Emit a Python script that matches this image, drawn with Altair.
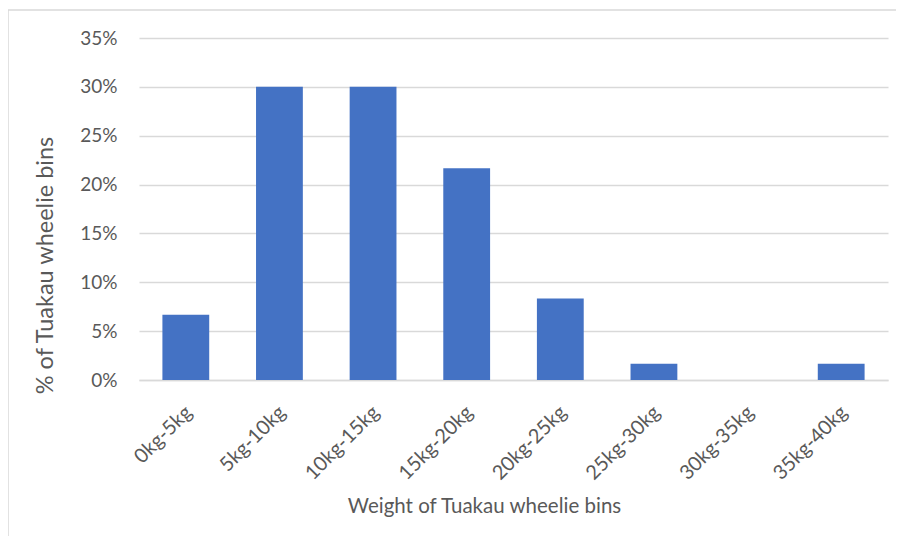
import altair as alt
import pandas as pd

categories = ["0kg-5kg", "5kg-10kg", "10kg-15kg", "15kg-20kg",
              "20kg-25kg", "25kg-30kg", "30kg-35kg", "35kg-40kg"]
shares = [0.0667, 0.30, 0.30, 0.2167, 0.0833, 0.0167, 0.0, 0.0167]
y_ticks = [0, 0.05, 0.10, 0.15, 0.20, 0.25, 0.30, 0.35]

df = pd.DataFrame({"bin": categories, "share": shares})

W, H = 749, 342
FONT = "Lato"
GREY = "#595959"

bars = alt.Chart(df).mark_bar(color="#4472C4").encode(
    x=alt.X(
        "bin:N", sort=categories,
        scale=alt.Scale(paddingInner=0.5, paddingOuter=0.25),
        axis=alt.Axis(
            title="Weight of Tuakau wheelie bins",
            labelAngle=-45, labelAlign="right", labelBaseline="middle",
            labelPadding=29, labelOffset=3,
            labelFont=FONT, labelFontSize=20, labelColor=GREY,
            titleFont=FONT, titleFontSize=20.5, titleColor=GREY, titleFontWeight="normal",
            titleX=345, titleY=126, titleBaseline="middle", titleAlign="center",
            ticks=False, domainColor="#d9d9d9", domainWidth=1.5, grid=False,
        ),
    ),
    y=alt.Y(
        "share:Q",
        scale=alt.Scale(domain=[0, 0.35], nice=False),
        axis=alt.Axis(
            title="% of Tuakau wheelie bins",
            values=y_ticks, format=".0%",
            labelFont=FONT, labelFontSize=19, labelColor=GREY, labelPadding=22,
            titleFont=FONT, titleFontSize=23.5, titleColor=GREY, titleFontWeight="normal",
            titleX=-94, titleY=227, titleBaseline="middle", titleAlign="center",
            ticks=False, domain=False, grid=True, gridColor="#d9d9d9", gridWidth=1.5,
        ),
    ),
)

frame = alt.Chart(pd.DataFrame({"a": [0]})).mark_rect(
    fill=None, stroke="#d9d9d9", strokeWidth=1.5, clip=False
).encode(
    x=alt.value(-131), x2=alt.value(W + 40),
    y=alt.value(-28), y2=alt.value(H + 300),
)

chart = alt.layer(frame, bars).properties(
    width=W, height=H,
    autosize=alt.AutoSizeParams(type="none"),
    padding={"left": 131, "top": 30, "right": 8, "bottom": 156},
).configure_view(stroke=None)

chart.save("out.html", embed_options={"renderer": "svg", "actions": False})
